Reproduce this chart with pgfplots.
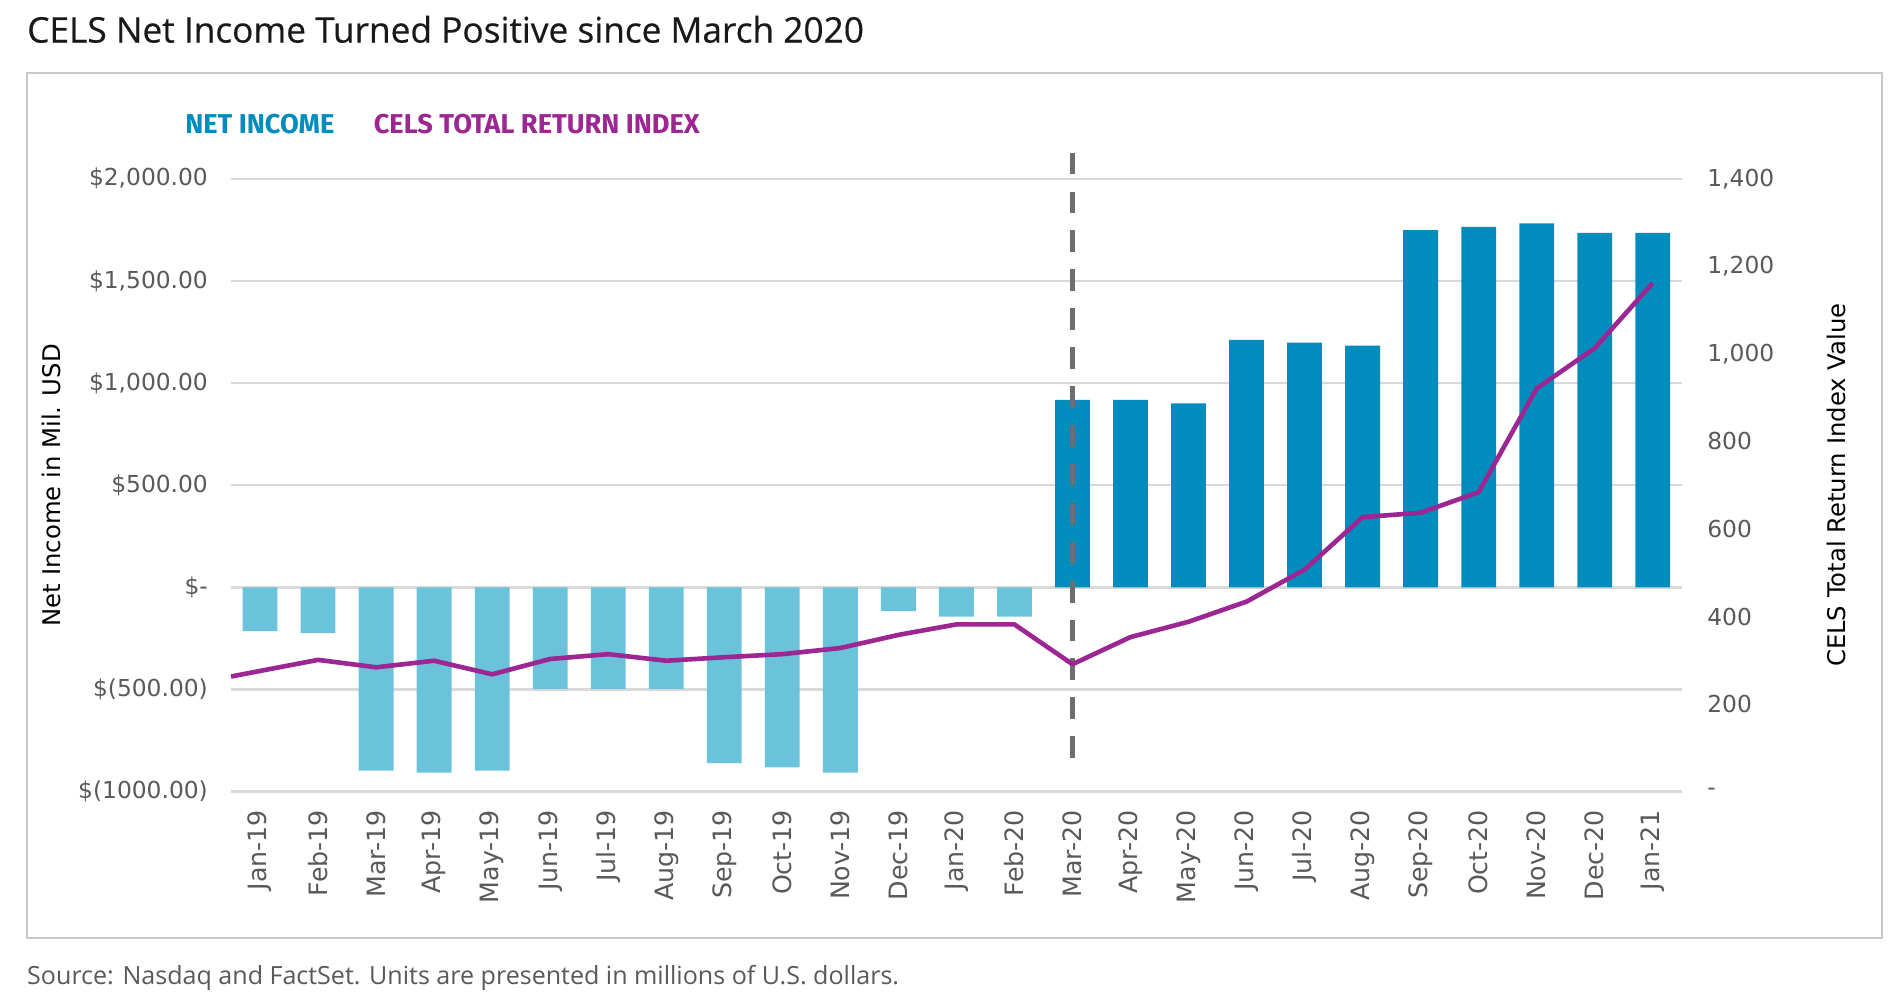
\documentclass[border=0pt]{standalone}
\usepackage{fontspec}
\setmainfont{DejaVu Sans}
\newfontfamily\titlefont{Open Sans}
\newfontfamily\titlefontb{Open Sans}[FakeBold=0.45]
\newfontfamily\legfont{Fira Sans}
\usepackage{pgfplots}
\pgfplotsset{compat=1.18}

\definecolor{negbar}{HTML}{6BC3DB}
\definecolor{posbar}{HTML}{008DBE}
\definecolor{idxline}{HTML}{9C2692}
\definecolor{gridc}{HTML}{D9D9D9}
\definecolor{tickc}{HTML}{595959}
\definecolor{labc}{HTML}{404040}
\definecolor{dashc}{HTML}{6D6E71}
\definecolor{framec}{HTML}{C8C8C8}

\pgfplotsset{
  common/.style={
    at={(95pt,86.5pt)}, anchor=south west,
    width=596.5pt, height=252pt, scale only axis,
    xmin=-0.5, xmax=24.5,
    axis line style={draw=none},
    major tick length=0pt,
    tick label style={font=\fontsize{9.6}{11}\selectfont, text=tickc},
    label style={font=\fontsize{9.3}{11}\selectfont, text=labc},
    clip=false,
  }
}

\begin{document}
\begin{tikzpicture}
\path[use as bounding box] (0,0) rectangle (780pt,412pt);
\draw[framec, line width=0.8pt] (11pt,26.5pt) rectangle (774pt,382pt);

\node[anchor=base west, inner sep=0, font=\titlefontb\fontsize{14.5}{16}\selectfont, text=black!90]
  at (11pt,394.5pt) {CELS Net Income Turned Positive since March 2020};
\node[anchor=base west, inner sep=0, font=\titlefont\fontsize{10.3}{12}\selectfont, text=tickc]
  at (11pt,7pt) {Source: Nasdaq and FactSet. Units are presented in millions of U.S. dollars.};

\node[anchor=base west, inner sep=0, font=\legfont\bfseries\fontsize{11.2}{13}\selectfont, text=posbar]
  at (76pt,357pt) {NET INCOME};
\node[anchor=base west, inner sep=0, font=\legfont\bfseries\fontsize{11.2}{13}\selectfont, text=idxline]
  at (153.5pt,357pt) {CELS TOTAL RETURN INDEX};

% net income bars, left axis
\begin{axis}[common,
  ymin=-1000, ymax=2000,
  ytick={-1000,-500,0,500,1000,1500,2000},
  yticklabels={\$(1000.00),\$(500.00),\$-,\$500.00,{\$1,000.00},{\$1,500.00},{\$2,000.00}},
  yticklabel style={xshift=-6pt},
  ymajorgrids, grid style={gridc, line width=1pt},
  xtick={0,...,24},
  xticklabels={Jan-19,Feb-19,Mar-19,Apr-19,May-19,Jun-19,Jul-19,Aug-19,Sep-19,Oct-19,Nov-19,Dec-19,
    Jan-20,Feb-20,Mar-20,Apr-20,May-20,Jun-20,Jul-20,Aug-20,Sep-20,Oct-20,Nov-20,Dec-20,Jan-21},
  xticklabel style={rotate=90, anchor=east, xshift=-4pt, font=\fontsize{10.4}{12}\selectfont},
  every axis y label/.style={at={(axis description cs:-0.124,0.5)}, anchor=center, rotate=90},
  ylabel={Net Income in Mil. USD},
]
\addplot[ybar, bar width=0.6, bar shift=0pt, fill=negbar, draw=none] coordinates {
  (0,-214)(1,-224)(2,-897)(3,-907)(4,-897)(5,-498)(6,-498)(7,-498)
  (8,-861)(9,-881)(10,-907)(11,-116)(12,-144)(13,-144)
};
\addplot[ybar, bar width=0.6, bar shift=0pt, fill=posbar, draw=none] coordinates {
  (14,917)(15,917)(16,900)(17,1211)(18,1198)(19,1183)
  (20,1748)(21,1764)(22,1781)(23,1735)(24,1735)
};
\draw[dashc, line width=2pt, dash pattern=on 9pt off 7pt] (axis cs:14,2128) -- (axis cs:14,-902);
\end{axis}

% total return index, right axis
\begin{axis}[common,
  ymin=0, ymax=1400,
  axis x line=none,
  axis y line*=right,
  ytick={0,200,...,1400},
  yticklabels={-,200,400,600,800,{1,000},{1,200},{1,400}},
  yticklabel style={xshift=7pt},
  every axis y label/.style={at={(axis description cs:1.1065,0.5)}, anchor=center, rotate=90},
  ylabel={CELS Total Return Index Value},
]
\addplot[idxline, line width=1.9pt, line join=round] coordinates {
  (-0.5,263)(1,301)(2,284)(3,299)(4,268)(5,303)(6,314)(7,299)(8,307)(9,314)
  (10,328)(11,358)(12,382)(13,382)(14,291)(15,353)(16,388)(17,434)(18,507)
  (19,627)(20,637)(21,684)(22,921)(23,1013)(24,1162)
};
\end{axis}
\end{tikzpicture}
\end{document}
